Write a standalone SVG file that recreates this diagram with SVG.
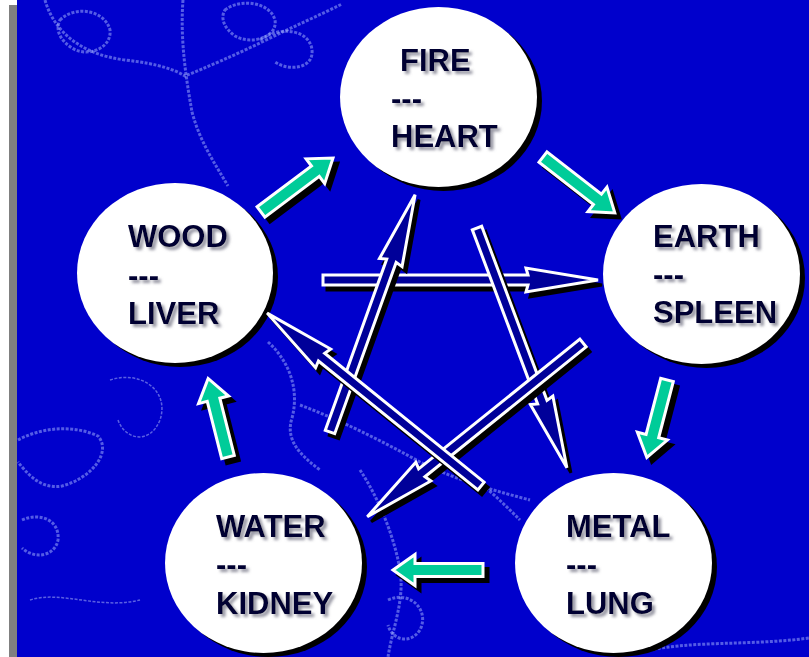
<svg xmlns="http://www.w3.org/2000/svg" xmlns:xlink="http://www.w3.org/1999/xlink" width="809" height="657" viewBox="0 0 809 657">
  <style>
    .lace{fill:none;stroke:#a8b8ff;stroke-width:3;stroke-dasharray:3 1.5;opacity:0.5}
    .lace2{fill:none;stroke:#c8d4ff;stroke-width:1.5;stroke-dasharray:3 1.5;opacity:0.45}
    .disc{fill:#ffffff}
    .discsh{fill:#000000}
    .lbl{font-family:"Liberation Sans",Arial,sans-serif;font-weight:bold;font-size:31px;fill:#000033}
    .green{fill:#00cc99;stroke:#ffffff;stroke-width:3;stroke-linejoin:miter}
    .navy{fill:#000099;stroke:#ffffff;stroke-width:3;stroke-linejoin:miter}
    .sh{fill:#000000;stroke:#000000;stroke-width:3}
  </style>
  <defs>
    <filter id="tsh" x="-10%" y="-20%" width="130%" height="160%">
      <feDropShadow dx="3" dy="3" stdDeviation="1.4" flood-color="#7a7a8a" flood-opacity="0.8"/>
    </filter>
    <!-- green block arrows (local: tail at 0, tip at L) -->
    <path id="g1" transform="translate(261,212) rotate(-36.87)" d="M0,-6.5 L68,-6.5 L68,-15.5 L90,0 L68,15.5 L68,6.5 L0,6.5 Z"/>
    <path id="g2" transform="translate(543,157) rotate(37.9)" d="M0,-6.5 L69,-6.5 L69,-15.5 L91,0 L69,15.5 L69,6.5 L0,6.5 Z"/>
    <path id="g3" transform="translate(667,380) rotate(104.6)" d="M0,-6.5 L58,-6.5 L58,-15.5 L80,0 L58,15.5 L58,6.5 L0,6.5 Z"/>
    <path id="g4" transform="translate(483,570) rotate(180)" d="M0,-6.5 L68,-6.5 L68,-15.5 L90,0 L68,15.5 L68,6.5 L0,6.5 Z"/>
    <path id="g5" transform="translate(228,457) rotate(-104.2)" d="M0,-6.5 L59,-6.5 L59,-15.5 L81,0 L59,15.5 L59,6.5 L0,6.5 Z"/>
    <!-- navy pentagram arrows -->
    <path id="na" transform="translate(323,280) rotate(0)" d="M0,-5 L205,-5 L203,-12 L275,0 L203,12 L205,5 L0,5 Z"/>
    <path id="nb" transform="translate(477,228) rotate(69.44)" d="M0,-5 L186,-5 L184,-12 L256,0 L184,12 L186,5 L0,5 Z"/>
    <path id="nc" transform="translate(481,486) rotate(-141.05)" d="M0,-5 L205,-5 L203,-12 L275,0 L203,12 L205,5 L0,5 Z"/>
    <path id="nd" transform="translate(330,432) rotate(-70.27)" d="M0,-5 L182,-5 L180,-12 L252,0 L180,12 L182,5 L0,5 Z"/>
    <path id="ne" transform="translate(583,343) rotate(141.15)" d="M0,-5 L207,-5 L205,-12 L277,0 L205,12 L207,5 L0,5 Z"/>
  </defs>

  <!-- page / frame -->
  <rect x="0" y="0" width="809" height="657" fill="#ffffff"/>
  <rect x="17" y="0" width="792" height="657" fill="#0000cc"/>
  <rect x="9" y="5" width="8" height="652" fill="#808080"/>

  <!-- background lace texture -->
  <g id="texture">
    <path class="lace" d="M45,0 C55,35 85,55 125,60 C160,64 175,70 185,76 C205,68 235,55 262,42 C290,28 318,16 342,4"/>
    <path class="lace" d="M60,20 C75,5 105,10 110,30 C112,48 88,58 72,48 C60,40 55,30 60,20 Z"/>
    <path class="lace" d="M225,10 C240,-2 270,2 275,20 C278,38 250,45 235,36 C224,28 220,18 225,10 Z"/>
    <path class="lace" d="M260,40 C280,25 310,30 312,50 C314,68 290,72 275,62"/>
    <path class="lace" d="M183,0 C180,40 186,78 192,112 C200,142 214,162 228,186"/>
    <path class="lace" d="M18,440 C40,428 72,424 98,436 C112,452 92,478 62,486 C40,490 26,472 18,462"/>
    <path class="lace" d="M22,520 C40,512 60,520 58,540 C55,556 35,560 22,548"/>
    <path class="lace" d="M268,342 C288,360 300,388 292,418 C285,440 300,455 320,470"/>
    <path class="lace" d="M300,405 C340,420 380,440 420,462 C460,482 500,492 530,500"/>
    <path class="lace" d="M360,470 C380,500 395,540 400,570 C405,600 392,630 388,657"/>
    <path class="lace" d="M388,600 C410,590 430,610 420,630 C410,645 392,640 388,625"/>
    <path class="lace" d="M440,460 C470,470 500,500 520,520"/>
    <path class="lace" d="M640,652 C690,640 750,646 809,638"/>
    <path class="lace2" d="M110,380 C140,370 170,390 160,420 C150,445 125,440 118,420"/>
    <path class="lace2" d="M30,600 C60,590 100,610 140,600"/>
  </g>

  <!-- nodes -->
  <g id="fire">
    <ellipse class="discsh" cx="443.5" cy="101" rx="98.5" ry="90"/>
    <ellipse class="disc" cx="438.5" cy="97" rx="98.5" ry="90"/>
    <g filter="url(#tsh)">
      <text class="lbl" x="400" y="71">FIRE</text>
      <text class="lbl" x="391" y="109">---</text>
      <text class="lbl" x="391" y="147">HEART</text>
    </g>
  </g>
  <g id="wood">
    <ellipse class="discsh" cx="180" cy="277" rx="98" ry="90"/>
    <ellipse class="disc" cx="175" cy="273" rx="98" ry="90"/>
    <g filter="url(#tsh)">
      <text class="lbl" x="128" y="247">WOOD</text>
      <text class="lbl" x="128" y="285.5">---</text>
      <text class="lbl" x="128" y="324">LIVER</text>
    </g>
  </g>
  <g id="earth">
    <ellipse class="discsh" cx="706.5" cy="278" rx="98.5" ry="90"/>
    <ellipse class="disc" cx="701.5" cy="274" rx="98.5" ry="90"/>
    <g filter="url(#tsh)">
      <text class="lbl" x="653" y="247">EARTH</text>
      <text class="lbl" x="653" y="285">---</text>
      <text class="lbl" x="653" y="323">SPLEEN</text>
    </g>
  </g>
  <g id="metal">
    <ellipse class="discsh" cx="618.5" cy="567" rx="98.5" ry="90"/>
    <ellipse class="disc" cx="613.5" cy="563" rx="98.5" ry="90"/>
    <g filter="url(#tsh)">
      <text class="lbl" x="566" y="537">METAL</text>
      <text class="lbl" x="566" y="575">---</text>
      <text class="lbl" x="566" y="614">LUNG</text>
    </g>
  </g>
  <g id="water">
    <ellipse class="discsh" cx="268.5" cy="567" rx="98.5" ry="90"/>
    <ellipse class="disc" cx="263.5" cy="563" rx="98.5" ry="90"/>
    <g filter="url(#tsh)">
      <text class="lbl" x="216" y="537">WATER</text>
      <text class="lbl" x="216" y="575">---</text>
      <text class="lbl" x="216" y="614">KIDNEY</text>
    </g>
  </g>

  <!-- connectors -->
  <g id="connectors">
    <!-- generating cycle (green) -->
    <use xlink:href="#g1" href="#g1" class="sh" transform="translate(5,5)"/>
    <use xlink:href="#g1" href="#g1" class="green"/>
    <use xlink:href="#g2" href="#g2" class="sh" transform="translate(5,5)"/>
    <use xlink:href="#g2" href="#g2" class="green"/>
    <use xlink:href="#g3" href="#g3" class="sh" transform="translate(5,5)"/>
    <use xlink:href="#g3" href="#g3" class="green"/>
    <use xlink:href="#g4" href="#g4" class="sh" transform="translate(5,5)"/>
    <use xlink:href="#g4" href="#g4" class="green"/>
    <use xlink:href="#g5" href="#g5" class="sh" transform="translate(5,5)"/>
    <use xlink:href="#g5" href="#g5" class="green"/>
    <!-- controlling cycle (navy pentagram) -->
    <use xlink:href="#na" href="#na" class="sh" transform="translate(4,5)"/>
    <use xlink:href="#na" href="#na" class="navy"/>
    <use xlink:href="#nd" href="#nd" class="sh" transform="translate(4,5)"/>
    <use xlink:href="#nd" href="#nd" class="navy"/>
    <use xlink:href="#nb" href="#nb" class="sh" transform="translate(4,5)"/>
    <use xlink:href="#nb" href="#nb" class="navy"/>
    <use xlink:href="#ne" href="#ne" class="sh" transform="translate(4,5)"/>
    <use xlink:href="#ne" href="#ne" class="navy"/>
    <use xlink:href="#nc" href="#nc" class="sh" transform="translate(4,5)"/>
    <use xlink:href="#nc" href="#nc" class="navy"/>
  </g>
</svg>
